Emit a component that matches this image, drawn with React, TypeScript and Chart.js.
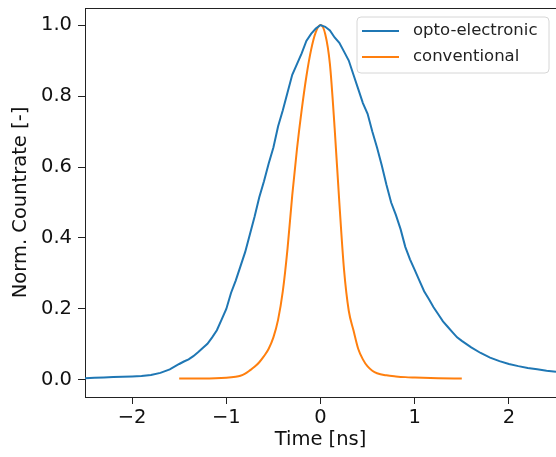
import React, { useEffect, useRef } from "react";
import { Chart, registerables } from "chart.js";

Chart.register(...registerables);

// opto-electronic (blue) — time [ns] and normalized countrate
const timeOpto = [
  -2.5, -2.4, -2.3, -2.2, -2.1, -2.0, -1.9, -1.8, -1.7, -1.6, -1.5, -1.45, -1.4, -1.35, -1.3, -1.25,
  -1.2, -1.15, -1.1, -1.05, -1.0, -0.95, -0.9, -0.85, -0.8, -0.75, -0.7, -0.65, -0.6, -0.55, -0.5,
  -0.45, -0.4, -0.35, -0.3, -0.25, -0.2, -0.15, -0.1, -0.05, 0.0, 0.05, 0.1, 0.15, 0.2, 0.25, 0.3,
  0.35, 0.4, 0.45, 0.5, 0.55, 0.6, 0.65, 0.7, 0.75, 0.8, 0.85, 0.9, 0.95, 1.0, 1.05, 1.1, 1.15, 1.2,
  1.25, 1.3, 1.35, 1.4, 1.45, 1.5, 1.6, 1.7, 1.8, 1.9, 2.0, 2.1, 2.2, 2.3, 2.4, 2.5,
];
const countOpto = [
  0.005, 0.006, 0.007, 0.008, 0.009, 0.010, 0.011, 0.014, 0.020, 0.030, 0.045, 0.052, 0.058, 0.067, 0.078, 0.090,
  0.102, 0.120, 0.140, 0.170, 0.200, 0.245, 0.280, 0.320, 0.360, 0.410, 0.460, 0.515, 0.560, 0.610, 0.655,
  0.715, 0.760, 0.810, 0.860, 0.890, 0.920, 0.955, 0.975, 0.990, 1.000, 0.995, 0.985, 0.965, 0.950, 0.925, 0.900,
  0.860, 0.820, 0.780, 0.750, 0.700, 0.655, 0.605, 0.550, 0.500, 0.465, 0.425, 0.375, 0.340, 0.310, 0.280, 0.250, 0.228, 0.205,
  0.185, 0.165, 0.150, 0.135, 0.120, 0.110, 0.092, 0.076, 0.063, 0.053, 0.045, 0.039, 0.034, 0.030, 0.026, 0.023,
];

// conventional (orange)
const timeConv = [
  -1.5, -1.25, -1.0, -0.9, -0.85, -0.8, -0.75, -0.7, -0.65, -0.6, -0.55, -0.5, -0.45, -0.4, -0.35, -0.3,
  -0.25, -0.2, -0.15, -0.1, -0.05, 0.0, 0.05, 0.1, 0.15, 0.2, 0.25, 0.3, 0.35, 0.4, 0.45, 0.5, 0.55,
  0.6, 0.7, 0.8, 0.9, 1.0, 1.25, 1.5,
];
const countConv = [
  0.004, 0.004, 0.006, 0.009, 0.012, 0.018, 0.027, 0.037, 0.050, 0.067, 0.088, 0.120, 0.170, 0.250, 0.370, 0.520,
  0.650, 0.760, 0.855, 0.930, 0.980, 1.000, 0.975, 0.890, 0.710, 0.500, 0.310, 0.195, 0.140, 0.088, 0.058, 0.038, 0.026,
  0.019, 0.013, 0.010, 0.008, 0.007, 0.005, 0.004,
];

const xTicks = [-2, -1, 0, 1, 2];
const yTicks = [0, 0.2, 0.4, 0.6, 0.8, 1.0];
const seriesLabels = ["opto-electronic", "conventional"];
const seriesColors = ["#1f77b4", "#ff7f0e"];

const FONT = "'DejaVu Sans', sans-serif";

const frameAndLegend = {
  id: "frameAndLegend",
  afterDraw(chart: any) {
    const { ctx, chartArea } = chart;
    ctx.save();
    // top spine
    ctx.strokeStyle = "#222";
    ctx.lineWidth = 1;
    ctx.beginPath();
    ctx.moveTo(chartArea.left, chartArea.top + 0.5);
    ctx.lineTo(chartArea.right, chartArea.top + 0.5);
    ctx.stroke();

    // legend
    const bx = 357, by = 17, bw = 192, bh = 56, r = 4;
    ctx.beginPath();
    ctx.moveTo(bx + r, by);
    ctx.lineTo(bx + bw - r, by);
    ctx.arcTo(bx + bw, by, bx + bw, by + r, r);
    ctx.lineTo(bx + bw, by + bh - r);
    ctx.arcTo(bx + bw, by + bh, bx + bw - r, by + bh, r);
    ctx.lineTo(bx + r, by + bh);
    ctx.arcTo(bx, by + bh, bx, by + bh - r, r);
    ctx.lineTo(bx, by + r);
    ctx.arcTo(bx, by, bx + r, by, r);
    ctx.closePath();
    ctx.fillStyle = "rgba(255,255,255,0.8)";
    ctx.fill();
    ctx.strokeStyle = "#d6d6d6";
    ctx.lineWidth = 1;
    ctx.stroke();

    chart.data.datasets.forEach((ds: any, i: number) => {
      const y = 31 + i * 26;
      ctx.strokeStyle = ds.borderColor;
      ctx.lineWidth = 2;
      ctx.beginPath();
      ctx.moveTo(362, y);
      ctx.lineTo(399, y);
      ctx.stroke();
      ctx.fillStyle = "#222";
      ctx.font = `16.5px ${FONT}`;
      ctx.textBaseline = "middle";
      ctx.textAlign = "left";
      ctx.fillText(ds.label, 413, y);
    });
    ctx.restore();
  },
};

export default function App() {
  const ref = useRef<HTMLCanvasElement | null>(null);

  useEffect(() => {
    if (!ref.current) return;
    const toPts = (xs: number[], ys: number[]) => xs.map((x, i) => ({ x, y: ys[i] }));
    const chart = new Chart(ref.current, {
      type: "line",
      data: {
        datasets: [
          {
            label: seriesLabels[0],
            data: toPts(timeOpto, countOpto),
            borderColor: seriesColors[0],
            backgroundColor: seriesColors[0],
            borderWidth: 2,
            pointRadius: 0,
            tension: 0,
          },
          {
            label: seriesLabels[1],
            data: toPts(timeConv, countConv),
            borderColor: seriesColors[1],
            backgroundColor: seriesColors[1],
            borderWidth: 2,
            pointRadius: 0,
            cubicInterpolationMode: "monotone",
          },
        ],
      },
      options: {
        responsive: false,
        animation: false,
        devicePixelRatio: 1,
        layout: { padding: { top: 8, left: 0, right: 0, bottom: 0 } },
        plugins: { legend: { display: false }, tooltip: { enabled: false } },
        scales: {
          x: {
            type: "linear",
            min: -2.5,
            max: 2.5,
            afterBuildTicks: (s: any) => {
              s.ticks = xTicks.map((v) => ({ value: v }));
            },
            afterFit: (s: any) => {
              s.height = 60;
              s.paddingLeft = 0;
              s.paddingRight = 0;
            },
            grid: { display: true, drawOnChartArea: false, drawTicks: true, tickLength: 7, tickColor: "#222" },
            border: { display: true, color: "#222", width: 1 },
            ticks: {
              color: "#111",
              padding: 2,
              font: { family: FONT, size: 19.5 },
              callback: (v: any) => (Number(v) < 0 ? "\u2212" + Math.abs(Number(v)) : String(v)),
            },
            title: {
              display: true,
              text: "Time [ns]",
              color: "#111",
              font: { family: FONT, size: 19.5 },
              padding: { top: 0, bottom: 5 },
            },
          },
          y: {
            type: "linear",
            min: -0.048,
            max: 1.048,
            afterBuildTicks: (s: any) => {
              s.ticks = yTicks.map((v) => ({ value: v }));
            },
            afterFit: (s: any) => {
              s.width = 85;
              s.paddingTop = 0;
              s.paddingBottom = 0;
            },
            grid: { display: true, drawOnChartArea: false, drawTicks: true, tickLength: 7, tickColor: "#222" },
            border: { display: true, color: "#222", width: 1 },
            ticks: {
              color: "#111",
              padding: 6,
              font: { family: FONT, size: 19.5 },
              callback: (v: any) => Number(v).toFixed(1),
            },
            title: {
              display: true,
              text: "Norm. Countrate [-]",
              color: "#111",
              font: { family: FONT, size: 19.5 },
              padding: { top: 9, bottom: 0 },
            },
          },
        },
      },
      plugins: [frameAndLegend],
    } as any);
    return () => chart.destroy();
  }, []);

  return (
    <div style={{ position: "absolute", left: 0, top: 0, width: 556, height: 457, background: "#fff" }}>
      <canvas ref={ref} width={556} height={457} style={{ width: 556, height: 457, display: "block" }} />
    </div>
  );
}
